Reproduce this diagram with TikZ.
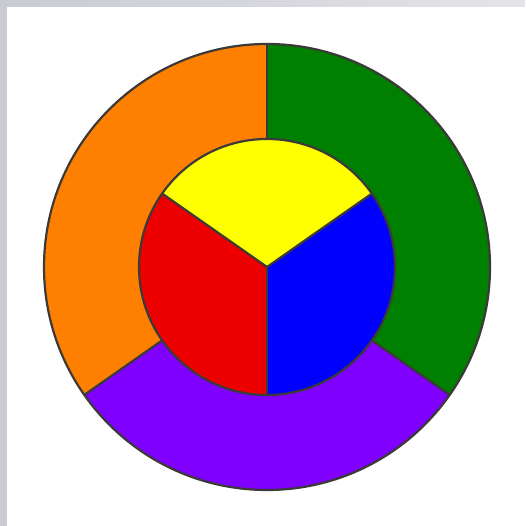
\documentclass[tikz,border=0pt]{standalone}
\usepackage{xcolor}
\usetikzlibrary{calc}
\definecolor{ringorange}{RGB}{255,128,0}
\definecolor{ringgreen}{RGB}{0,128,0}
\definecolor{ringpurple}{RGB}{128,0,255}
\definecolor{coreyellow}{RGB}{255,255,0}
\definecolor{corered}{RGB}{238,0,0}
\definecolor{coreblue}{RGB}{0,0,255}
\definecolor{edgegray}{RGB}{60,58,56}
\definecolor{bandleft}{RGB}{200,202,212}
\definecolor{bandright}{RGB}{228,228,232}

\begin{document}
\begin{tikzpicture}[x=1pt, y=1pt]
  \tikzset{outline/.style={draw=edgegray, line width=2.2pt}}
  \useasboundingbox (0,0) rectangle (525,526);
  \fill[white] (0,0) rectangle (525,526);
  \shade[left color=bandleft, right color=bandright] (0,519) rectangle (525,526);
  \fill[bandleft] (0,0) rectangle (7,526);

  \coordinate (c) at (267,259);
  % outer ring
  \fill[ringorange] (c) -- ++(90:223) arc (90:215:223) -- cycle;
  \fill[ringpurple] (c) -- ++(215:223) arc (215:325:223) -- cycle;
  \fill[ringgreen] (c) -- ++(325:223) arc (325:450:223) -- cycle;
  % inner disc
  \fill[coreyellow] (c) -- ++(35:128) arc (35:145:128) -- cycle;
  \fill[corered] (c) -- ++(145:128) arc (145:270:128) -- cycle;
  \fill[coreblue] (c) -- ++(270:128) arc (270:395:128) -- cycle;

  \draw[outline] (c) circle (223);
  \draw[outline] (c) circle (128);
  \draw[outline] ($(c)+(90:128)$) -- ($(c)+(90:223)$);
  \draw[outline] ($(c)+(215:128)$) -- ($(c)+(215:223)$);
  \draw[outline] ($(c)+(325:128)$) -- ($(c)+(325:223)$);
  \draw[outline] (c) -- ++(35:128);
  \draw[outline] (c) -- ++(145:128);
  \draw[outline] (c) -- ++(270:128);
\end{tikzpicture}
\end{document}
